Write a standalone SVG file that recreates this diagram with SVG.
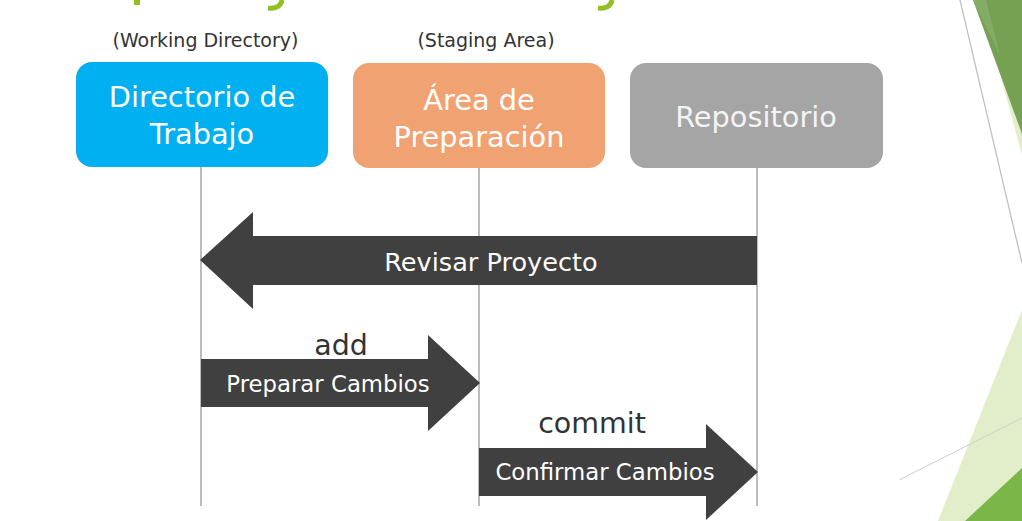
<svg xmlns="http://www.w3.org/2000/svg" width="1022" height="521" viewBox="0 0 1022 521">
<style>
.node-t{font-family:"DejaVu Sans",sans-serif;font-size:28.8px;fill:#ffffff;text-anchor:middle}
.sub{font-family:"DejaVu Sans",sans-serif;font-size:19px;fill:#333333;text-anchor:middle}
.arr-t{font-family:"DejaVu Sans",sans-serif;fill:#ffffff;text-anchor:middle}
.cmd{font-family:"DejaVu Sans",sans-serif;font-size:28.5px;fill:#333333;text-anchor:middle}
.life{stroke:#a6a6a6;stroke-width:1.5;fill:none}
.arrow{fill:#404040}
</style>
<rect width="1022" height="521" fill="#ffffff"/>
<g id="decoration">
  <polygon points="980,0 1022,0 1022,155" fill="#e2eec9"/>
  <polygon points="973,0 1022,0 1022,134" fill="#76a153"/>
  <polygon points="973,0 986,0 1000,55" fill="#85ac66"/>
  <line x1="960" y1="0" x2="1022" y2="263" stroke="#bdbdbd" stroke-width="1.2"/>
  <polygon points="1022,310 1022,521 938,521" fill="#e2eec9"/>
  <polygon points="1022,468 1022,521 965,521" fill="#7ab648"/>
  <line x1="899" y1="480" x2="1022" y2="418" stroke="#cfcfcf" stroke-width="1"/>
  <rect x="134" y="0" width="6" height="5" fill="#92c022"/>
  <path d="M282,0 C281,6 276,9 268,8" stroke="#92c022" stroke-width="5" fill="none"/>
  <path d="M612,0 C611,6 606,9 598,8" stroke="#92c022" stroke-width="5" fill="none"/>
</g>
<g id="lifelines">
  <line class="life" x1="201" y1="167" x2="201" y2="506"/>
  <line class="life" x1="479" y1="168" x2="479" y2="506"/>
  <line class="life" x1="757" y1="168" x2="757" y2="506"/>
</g>
<g id="node-working">
  <text class="sub" x="205.5" y="47">(Working Directory)</text>
  <rect x="76" y="62" width="252" height="105" rx="16" fill="#00b0f0"/>
  <text class="node-t" x="202" y="107">Directorio de</text>
  <text class="node-t" x="202" y="144">Trabajo</text>
</g>
<g id="node-staging">
  <text class="sub" x="486" y="47">(Staging Area)</text>
  <rect x="353" y="63" width="252" height="105" rx="16" fill="#f1a272"/>
  <text class="node-t" x="479" y="110">Área de</text>
  <text class="node-t" x="479" y="147">Preparación</text>
</g>
<g id="node-repo">
  <rect x="630" y="63" width="253" height="105" rx="16" fill="#a5a5a5"/>
  <text class="node-t" x="756" y="127" style="fill:#f4f4f4">Repositorio</text>
</g>
<g id="connectors">
  <g id="arrow-checkout">
    <polygon class="arrow" points="757,236 253,236 253,212 200,260 253,309 253,285 757,285"/>
    <text class="arr-t" x="491" y="271" font-size="25.6">Revisar Proyecto</text>
  </g>
  <g id="arrow-add">
    <text class="cmd" x="341" y="355">add</text>
    <polygon class="arrow" points="201,359 428,359 428,335 480,383 428,431 428,407 201,407"/>
    <text class="arr-t" x="328" y="392" font-size="22.8">Preparar Cambios</text>
  </g>
  <g id="arrow-commit">
    <text class="cmd" x="592" y="433">commit</text>
    <polygon class="arrow" points="479,448 706,448 706,424 758,472 706,520 706,496 479,496"/>
    <text class="arr-t" x="605" y="480" font-size="22.8">Confirmar Cambios</text>
  </g>
</g>
</svg>
